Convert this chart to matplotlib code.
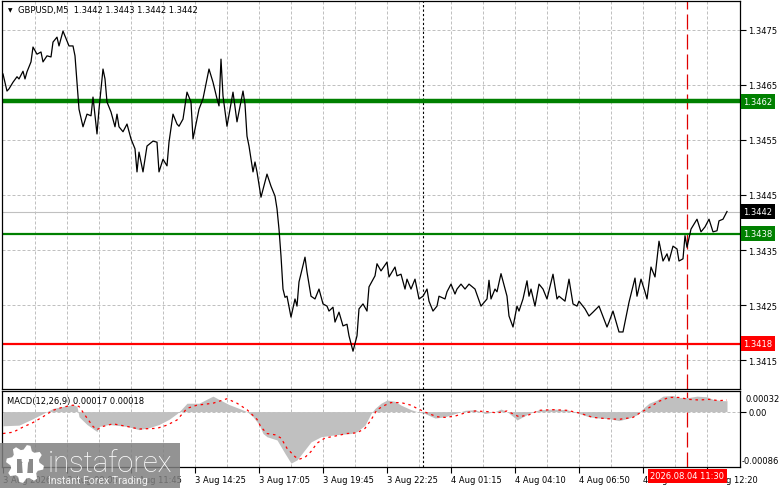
import numpy as np
import matplotlib
matplotlib.use('Agg')
import matplotlib.pyplot as plt
from matplotlib.patches import Polygon, Rectangle
from matplotlib.transforms import blended_transform_factory

# price line (bar index, close)
price_bar = [0, 2, 3, 5, 7, 8, 10, 11, 12, 14, 15, 17, 19, 20, 22, 24, 25, 27, 28, 30,
             32, 33, 35, 36, 37, 38, 40, 42, 44, 45, 47, 48, 50, 51, 52, 54, 56, 57, 58, 60,
             62, 64, 66, 67, 68, 70, 72, 75, 77, 78, 80, 82, 83, 85, 87, 88, 90, 92, 94, 95,
             97, 98, 100, 103, 105, 107, 108, 109, 110, 112, 115, 117, 120, 121, 122, 123, 125, 126, 127, 129,
             132, 134, 136, 137, 138, 139, 140, 141, 142, 144, 146, 147, 148, 151, 152, 154, 156, 158, 160, 162,
             163, 165, 166, 168, 170, 172, 173, 175, 177, 178, 180, 182, 183, 186, 187, 189, 192, 193, 196, 197,
             199, 201, 202, 204, 206, 207, 208, 210, 212, 213, 215, 217, 218, 221, 222, 224, 226, 227, 229, 231,
             233, 236, 239, 242, 243, 244, 246, 247, 249, 252, 253, 255, 257, 258, 260, 262, 263, 264, 266, 268,
             270, 272, 275, 277, 278, 281, 283, 285, 287, 288, 291, 293, 295, 298, 302, 303, 305, 308, 310, 312,
             313, 316, 317, 319, 321, 322, 324, 326, 328, 330, 332, 333, 335, 337, 338, 340, 341, 342, 344, 347,
             349, 351, 353, 355, 357, 358, 360, 362]
price_close = [1.34670, 1.34639, 1.34643, 1.34655, 1.34665, 1.34661, 1.34675, 1.34661, 1.34674, 1.34692,
               1.34719, 1.34706, 1.34710, 1.34692, 1.34703, 1.34701, 1.34728, 1.34737, 1.34721, 1.34748,
               1.34730, 1.34721, 1.34721, 1.34703, 1.34655, 1.34606, 1.34574, 1.34597, 1.34594, 1.34628,
               1.34561, 1.34606, 1.34679, 1.34661, 1.34619, 1.34601, 1.34574, 1.34597, 1.34574, 1.34565,
               1.34579, 1.34552, 1.34534, 1.34492, 1.34528, 1.34492, 1.34539, 1.34548, 1.34546, 1.34492,
               1.34515, 1.34503, 1.34546, 1.34597, 1.34579, 1.34575, 1.34588, 1.34637, 1.34619, 1.34552,
               1.34588, 1.34606, 1.34625, 1.34679, 1.34655, 1.34625, 1.34612, 1.34697, 1.34630, 1.34575,
               1.34637, 1.34583, 1.34639, 1.34615, 1.34557, 1.34539, 1.34492, 1.34510, 1.34492, 1.34446,
               1.34488, 1.34466, 1.34448, 1.34425, 1.34388, 1.34339, 1.34279, 1.34264, 1.34266, 1.34228,
               1.34261, 1.34248, 1.34292, 1.34337, 1.34310, 1.34266, 1.34261, 1.34279, 1.34252, 1.34248,
               1.34239, 1.34246, 1.34219, 1.34237, 1.34212, 1.34215, 1.34194, 1.34166, 1.34194, 1.34243,
               1.34252, 1.34239, 1.34283, 1.34303, 1.34325, 1.34312, 1.34328, 1.34301, 1.34319, 1.34303,
               1.34306, 1.34279, 1.34297, 1.34279, 1.34297, 1.34279, 1.34261, 1.34266, 1.34279, 1.34257,
               1.34239, 1.34248, 1.34266, 1.34261, 1.34274, 1.34288, 1.34270, 1.34279, 1.34288, 1.34279,
               1.34288, 1.34279, 1.34248, 1.34261, 1.34295, 1.34261, 1.34279, 1.34274, 1.34307, 1.34266,
               1.34230, 1.34210, 1.34248, 1.34239, 1.34261, 1.34294, 1.34266, 1.34279, 1.34248, 1.34288,
               1.34279, 1.34261, 1.34306, 1.34261, 1.34266, 1.34257, 1.34297, 1.34252, 1.34248, 1.34257,
               1.34243, 1.34230, 1.34237, 1.34248, 1.34210, 1.34219, 1.34239, 1.34201, 1.34201, 1.34237,
               1.34255, 1.34299, 1.34266, 1.34297, 1.34274, 1.34261, 1.34319, 1.34301, 1.34366, 1.34330,
               1.34343, 1.34330, 1.34357, 1.34352, 1.34330, 1.34334, 1.34376, 1.34355, 1.34388, 1.34406,
               1.34383, 1.34392, 1.34406, 1.34383, 1.34385, 1.34403, 1.34406, 1.34420]

# MACD histogram and signal
hist_bar = [0, 8, 15, 20, 22, 25, 30, 35, 37, 38, 42, 47, 48, 53, 62, 68, 73, 78, 83, 87,
            89, 92, 98, 103, 105, 108, 113, 118, 122, 125, 126, 128, 130, 132, 137, 141, 144, 147, 151, 154,
            159, 166, 174, 177, 181, 184, 186, 189, 192, 196, 199, 204, 207, 211, 216, 221, 226, 231, 236, 241,
            246, 249, 252, 256, 257, 260, 263, 268, 275, 282, 288, 293, 298, 303, 308, 313, 317, 320, 323, 327,
            330, 335, 338, 343, 347, 352, 355, 360, 362]
hist_val = [-0.00022, -0.00021, -0.00011, -0.00003, 0.0, 0.00005, 0.00008, 0.00011, 0.00008, -0.00008,
            -0.00020, -0.00031, -0.00023, -0.00020, -0.00023, -0.00028, -0.00025, -0.00020, -0.00012, -0.00003,
            0.00003, 0.00013, 0.00013, 0.00021, 0.00024, 0.00019, 0.00011, 0.00005, 0.0, -0.00008,
            -0.00012, -0.00020, -0.00034, -0.00039, -0.00044, -0.00065, -0.00080, -0.00075, -0.00059, -0.00047,
            -0.00039, -0.00036, -0.00034, -0.00031, -0.00021, -0.00003, 0.00005, 0.00013, 0.00018, 0.00016,
            0.00010, 0.00003, 0.0, -0.00003, -0.00010, -0.00008, -0.00003, 0.00002, 0.00003, -0.00003,
            0.0, 0.00004, 0.0, -0.00010, -0.00013, -0.00008, -0.00003, 0.00003, 0.00004, 0.00003,
            -0.00003, -0.00008, -0.00010, -0.00011, -0.00014, -0.00010, -0.00005, 0.00005, 0.00013, 0.00018,
            0.00024, 0.00025, 0.00022, 0.00022, 0.00024, 0.00023, 0.00019, 0.00017, 0.00017]
sig_bar = [0, 5, 10, 15, 20, 25, 30, 35, 38, 42, 45, 47, 50, 55, 62, 68, 77, 82, 87, 92,
           97, 105, 112, 117, 122, 127, 129, 132, 136, 139, 142, 146, 148, 151, 154, 157, 161, 166, 172, 177,
           181, 184, 187, 191, 194, 199, 204, 207, 212, 217, 221, 226, 231, 236, 242, 247, 252, 258, 263, 268,
           275, 282, 288, 295, 302, 308, 315, 318, 323, 328, 333, 338, 343, 348, 353, 358, 362]
sig_val = [-0.00034, -0.00032, -0.00024, -0.00017, -0.00008, 0.00002, 0.00007, 0.00010, 0.00008, -0.00010,
           -0.00023, -0.00028, -0.00023, -0.00019, -0.00023, -0.00027, -0.00026, -0.00021, -0.00013, 0.00005,
           0.00010, 0.00013, 0.00020, 0.00013, 0.00003, -0.00012, -0.00024, -0.00034, -0.00036, -0.00041,
           -0.00057, -0.00070, -0.00074, -0.00071, -0.00062, -0.00049, -0.00041, -0.00038, -0.00034, -0.00033,
           -0.00026, -0.00013, 0.00003, 0.00010, 0.00014, 0.00014, 0.00010, 0.00005, -0.00002, -0.00008,
           -0.00009, -0.00007, -0.00002, 0.00001, 0.0, -0.00002, 0.00001, -0.00008, -0.00005, 0.00002,
           0.00003, 0.00002, -0.00002, -0.00009, -0.00011, -0.00012, -0.00009, -0.00003, 0.00006, 0.00016,
           0.00022, 0.00022, 0.00019, 0.00018, 0.00019, 0.00017, 0.00018]

price_ticks = [1.3415, 1.3425, 1.3435, 1.3445, 1.3455, 1.3465, 1.3475]
levels = [1.3462, 1.3438, 1.3418]
level_colors = ['#008000', '#008000', '#ff0000']
level_widths = [3.2, 1.6, 1.6]
last_price = 1.3442

time_bars = [0, 32, 64, 96, 128, 160, 192, 224, 256, 288, 320, 352]
time_labels = ['3 Aug 2026', '3 Aug 09:05', '3 Aug 11:45', '3 Aug 14:25', '3 Aug 17:05',
               '3 Aug 19:45', '3 Aug 22:25', '4 Aug 01:15', '4 Aug 04:10', '4 Aug 06:50',
               '4 Aug 09:40', '4 Aug 12:20']
grid_bars = list(range(16, 368, 16))
period_sep_bar = 210
cursor_bar = 342
cursor_label = '2026.08.04 11:30'

W, H = 781, 489
FS = 6
GRID = '#c0c0c0'
plt.rcParams['font.family'] = ['DejaVu Sans']


def px_rect(x0, y0, x1, y1):
    return [x0 / W, 1 - y1 / H, (x1 - x0) / W, (y1 - y0) / H]


fig = plt.figure(figsize=(W / 100, H / 100), dpi=100)
ax = fig.add_axes(px_rect(2, 2, 740, 390))
ax2 = fig.add_axes(px_rect(2, 392, 740, 468))

for a in (ax, ax2):
    a.set_xlim(-0.5, 368.5)
    for s in a.spines.values():
        s.set_color('black')
        s.set_linewidth(0.9)
    for b in grid_bars:
        a.axvline(b, color=GRID, lw=0.72, ls=(0, (3, 2)), zorder=0)
    a.axvline(period_sep_bar, color='black', lw=0.8, ls=(0, (2, 2)), zorder=1)
    a.axvline(cursor_bar, color='#e00000', lw=0.9, ls=(0, (12, 4)), zorder=1)

# main price panel
ax.set_ylim(1.340973, 1.348027)
for v in price_ticks:
    ax.axhline(v, color=GRID, lw=0.72, ls=(0, (3, 2)), zorder=0)
ax.axhline(last_price, color=GRID, lw=0.8, zorder=1)
for lv, c, w in zip(levels, level_colors, level_widths):
    ax.axhline(lv, color=c, lw=w, zorder=2)
ax.plot(price_bar, price_close, color='black', lw=0.9, zorder=3)

ax.set_xticks([])
ax.set_yticks(price_ticks)
ax.set_yticklabels([f'{v:.4f}' for v in price_ticks])
ax.yaxis.tick_right()
ax.tick_params(axis='y', length=4, width=0.8, pad=2, labelsize=FS, direction='out')

trans = blended_transform_factory(ax.transAxes, ax.transData)
box_text = [(lv, c) for lv, c in zip(levels, level_colors)] + [(last_price, 'black')]
for lv, c in box_text:
    ax.text(1.0045, lv, f'{lv:.4f}', transform=trans, ha='left', va='center', fontsize=FS,
            color='white', clip_on=False, zorder=6,
            bbox=dict(boxstyle='square,pad=0.33', fc=c, ec='none'))

ax.text(0.0108, 0.977, '\u25bc', transform=ax.transAxes, fontsize=4.2, va='center', ha='center')
ax.text(0.0217, 0.977, 'GBPUSD,M5  1.3442 1.3443 1.3442 1.3442', transform=ax.transAxes,
        fontsize=6, va='center', ha='left')

# MACD panel
ax2.set_ylim(-0.00086, 0.00032)
ax2.axhline(0, color=GRID, lw=0.72, ls=(0, (3, 2)), zorder=0)
ax2.fill_between(hist_bar, 0, hist_val, color='#c0c0c0', lw=0, zorder=1)
ax2.plot(sig_bar, sig_val, color='red', lw=0.9, ls=(0, (2, 3)), zorder=2)
ax2.set_xticks(time_bars)
ax2.set_xticklabels(time_labels, ha='left', fontsize=FS)
ax2.tick_params(axis='x', length=4, width=0.8, pad=1.5, direction='out')
ax2.set_yticks([0.0])
ax2.set_yticklabels(['0.00'])
ax2.yaxis.tick_right()
ax2.tick_params(axis='y', length=4, width=0.8, pad=2, labelsize=FS, direction='out')
ax2.text(1.0068, 0.895, '0.00032', transform=ax2.transAxes, fontsize=FS, va='center', ha='left')
ax2.text(1.0027, 0.092, '-0.00086', transform=ax2.transAxes, fontsize=FS, va='center', ha='left')
ax2.text(0.0068, 0.88, 'MACD(12,26,9) 0.00017 0.00018', transform=ax2.transAxes,
         fontsize=FS, va='center', ha='left')
ax2.text(cursor_bar, -0.118, cursor_label,
         transform=blended_transform_factory(ax2.transData, ax2.transAxes),
         ha='center', va='center', fontsize=FS, color='white', clip_on=False, zorder=6,
         bbox=dict(boxstyle='square,pad=0.3', fc='#ff0000', ec='none'))

# watermark
fig.add_artist(Rectangle((0, 0), 180 / W, 45 / H, transform=fig.transFigure,
                         fc='#808080', ec='none', alpha=0.85, zorder=10))
cx, cy, r_out, r_in, teeth = 25, 465, 19, 14.5, 8
ang = np.linspace(0, 2 * np.pi, teeth * 4, endpoint=False) + np.pi / (teeth * 4)
rad = np.tile([r_out, r_out, r_in, r_in], teeth)
gx = (cx + rad * np.cos(ang)) / W
gy = 1 - (cy + rad * np.sin(ang)) / H
fig.add_artist(Polygon(np.column_stack([gx, gy]), closed=True, transform=fig.transFigure,
                       fc='white', ec='none', zorder=11))
fig.add_artist(Polygon([((cx - 8) / W, 1 - (cy - 5) / H), ((cx + 8) / W, 1 - (cy - 5) / H),
                        ((cx + 8) / W, 1 - (cy + 9) / H), ((cx - 8) / W, 1 - (cy + 9) / H)],
                       closed=True, transform=fig.transFigure, fc='#8a8a8a', ec='none', zorder=12))
fig.add_artist(Polygon([((cx - 3) / W, 1 - (cy - 1) / H), ((cx + 3) / W, 1 - (cy - 1) / H),
                        ((cx + 2) / W, 1 - (cy + 13) / H), ((cx - 2) / W, 1 - (cy + 13) / H)],
                       closed=True, transform=fig.transFigure, fc='white', ec='none', zorder=13))
fig.text(cx / W, 1 - (cy - 5) / H, '\u25cf', fontsize=7, color='white', ha='center', va='center',
         zorder=13)
fig.text(48 / W, 1 - 472 / H, 'instaforex', fontsize=21, family='Roboto', weight='light',
         color='white', va='baseline', ha='left', zorder=12)
fig.text(48 / W, 1 - 481 / H, 'Instant Forex Trading', fontsize=7.6, family='Roboto',
         color='#f0f0f0', va='center', ha='left', zorder=12)

fig.savefig('out.png', dpi=100)
